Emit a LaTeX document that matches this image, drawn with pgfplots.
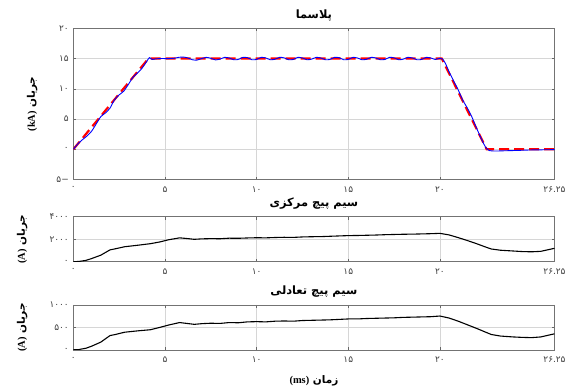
\documentclass[border=0pt]{standalone}
\usepackage{pgfplots}
\pgfplotsset{compat=1.18}
\usepackage{fontspec}
\setmainfont{Liberation Serif}
\newfontfamily\fa[Script=Arabic]{DejaVu Sans}
\TeXXeTstate=1
\newcommand\labfont{\fa\bfseries\fontsize{10.5}{12}\selectfont}
\pgfplotsset{
  common/.style={
    scale only axis, width=481.2bp,
    xmin=0, xmax=26.25,
    xtick={0,5,10,15,20,26.25},
    xticklabels={۰,۵,۱۰,۱۵,۲۰,۲۶.۲۵},
    scaled ticks=false,
    grid=major,
    major grid style={black!16, line width=0.5pt},
    axis line style={black!55, line width=0.6pt},
    tick style={black!60, line width=0.5pt},
    major tick length=3bp,
    tick align=inside,
    ticklabel style={font=\fa\fontsize{9}{10}\selectfont, text=black!75},
    xticklabel style={yshift=-3.5bp},
    yticklabel style={xshift=-1bp},
    title style={font=\fa\bfseries\fontsize{11.5}{13}\selectfont, at={(rel axis cs:0.5,1)}, anchor=center, yshift=7bp},
  },
}
\begin{document}
\begin{tikzpicture}
\path[use as bounding box] (0,0) rectangle (576bp,392bp);
% ---------- top axis ----------
\begin{axis}[common, at={(73.3bp,212.4bp)}, anchor=south west, height=151.3bp,
  ymin=-5, ymax=20, ytick={-5,0,5,10,15,20},
  yticklabels={−۵,۰,۵,۱۰,۱۵,۲۰},
  title={\beginR پلاسما\endR},
  every axis y label/.style={at={(rel axis cs:0,0.5)}, xshift=-41bp, rotate=90, anchor=center, font=\labfont},
  ylabel={\beginR جریان \beginL{\rmfamily\bfseries (kA)}\endL\endR},
]
\addplot[red, line width=2.2pt, dash pattern=on 10bp off 5bp] coordinates {
(0,0) (4.1,15) (20.1,15) (22.55,0) (26.25,0)};
\addplot[blue, line width=0.9pt, smooth, tension=0.4] coordinates {
(0,0) (0.25,0.9) (0.5,1.6) (0.75,2.2) (1.0,3.0) (1.25,4.2) (1.5,5.4) (1.75,6.0)
(2.0,6.8) (2.25,8.2) (2.5,9.0) (2.75,9.6) (3.0,10.7) (3.25,11.9) (3.5,12.6)
(3.75,13.4) (4.0,14.5) (4.15,15.15) (4.3,14.85) (4.5,14.95) (4.75,15.0)
(5.0,15.0) (5.25,15.0) (5.5,15.05) (5.75,15.2) (6.0,15.25) (6.25,15.1) (6.5,14.8)
(6.75,14.75) (7.0,15.0) (7.25,15.2) (7.5,15.05) (7.75,14.78) (8.0,14.9)
(8.25,15.2) (8.5,15.1) (8.75,14.8) (9.0,14.85) (9.25,15.2) (9.5,15.15)
(9.75,14.8) (10.0,14.85) (10.25,15.2) (10.5,15.1) (10.75,14.8) (11.0,14.88)
(11.25,15.2) (11.5,15.12) (11.75,14.8) (12.0,14.85) (12.25,15.2) (12.5,15.1)
(12.75,14.8) (13.0,14.9) (13.25,15.2) (13.5,15.1) (13.75,14.8) (14.0,14.85)
(14.25,15.2) (14.5,15.15) (14.75,14.8) (15.0,14.85) (15.25,15.2) (15.5,15.1)
(15.75,14.8) (16.0,14.88) (16.25,15.2) (16.5,15.1) (16.75,14.8) (17.0,14.85)
(17.25,15.2) (17.5,15.12) (17.75,14.8) (18.0,14.9) (18.25,15.2) (18.5,15.1)
(18.75,14.8) (19.0,14.85) (19.25,15.2) (19.5,15.1) (19.75,14.85) (20.0,15.05)
(20.15,14.9) (20.3,14.2) (20.5,12.8) (20.75,11.3) (21.0,9.8) (21.25,8.1)
(21.5,6.8) (21.75,5.3) (22.0,3.5) (22.25,1.8) (22.5,0.3) (22.7,-0.2)
(23.0,-0.28) (23.5,-0.24) (24.0,-0.2) (24.5,-0.15) (25.0,-0.1) (25.5,-0.08) (26.25,-0.05)};
\end{axis}
% ---------- middle axis ----------
\begin{axis}[common, at={(73.3bp,130.3bp)}, anchor=south west, height=45bp,
  ymin=0, ymax=4000, ytick={0,2000,4000},
  yticklabels={۰,۲۰۰۰,۴۰۰۰},
  title={\beginR سیم پیچ مرکزی\endR},
  every axis y label/.style={at={(rel axis cs:0,0.5)}, xshift=-51bp, rotate=90, anchor=center, font=\labfont},
  ylabel={\beginR جریان \beginL{\rmfamily\bfseries (A)}\endL\endR},
]
\addplot[black, line width=1.1pt] coordinates {
(0,0) (0.3,20) (0.7,120) (1.0,280) (1.5,580) (2.0,1050) (2.3,1150) (2.8,1330)
(3.5,1460) (4.2,1600) (4.7,1750) (5.2,1950) (5.8,2120) (6.2,2060) (6.6,1990)
(7.0,2030) (7.5,2050) (8.0,2040) (8.5,2090) (9.0,2080) (9.5,2110) (10,2130)
(10.5,2120) (11,2150) (11.5,2170) (12,2160) (12.5,2200) (13,2220) (13.5,2230)
(14,2260) (14.5,2290) (15,2320) (15.5,2330) (16,2350) (16.5,2370) (17,2400)
(17.5,2420) (18,2440) (18.5,2450) (19,2470) (19.5,2490) (20,2520) (20.5,2380)
(21,2140) (21.5,1880) (22,1600) (22.5,1300) (22.8,1130) (23.3,1020) (24,950)
(24.5,900) (25,880) (25.5,920) (26.25,1190)};
\end{axis}
% ---------- bottom axis ----------
\begin{axis}[common, at={(73.3bp,42bp)}, anchor=south west, height=45bp,
  ymin=0, ymax=1000, ytick={0,500,1000},
  yticklabels={۰,۵۰۰,۱۰۰۰},
  title={\beginR سیم پیچ تعادلی\endR},
  every axis y label/.style={at={(rel axis cs:0,0.5)}, xshift=-51bp, rotate=90, anchor=center, font=\labfont},
  ylabel={\beginR جریان \beginL{\rmfamily\bfseries (A)}\endL\endR},
  every axis x label/.style={at={(rel axis cs:0.5,0)}, yshift=-31bp, anchor=center, font=\labfont},
  xlabel={\beginR زمان \beginL{\rmfamily\bfseries (ms)}\endL\endR},
]
\addplot[black, line width=1.1pt] coordinates {
(0,5) (0.3,10) (0.7,40) (1.0,85) (1.5,175) (2.0,320) (2.3,345) (2.8,395)
(3.5,425) (4.2,450) (4.7,500) (5.2,555) (5.8,610) (6.2,590) (6.6,570)
(7.0,585) (7.5,595) (8.0,590) (8.5,610) (9.0,605) (9.5,625) (10,630)
(10.5,625) (11,640) (11.5,645) (12,640) (12.5,655) (13,660) (13.5,665)
(14,670) (14.5,680) (15,690) (15.5,690) (16,700) (16.5,705) (17,710)
(17.5,715) (18,725) (18.5,730) (19,735) (19.5,740) (20,755) (20.5,710)
(21,640) (21.5,560) (22,480) (22.5,395) (22.8,345) (23.3,310) (24,290)
(24.5,280) (25,275) (25.5,290) (26.25,360)};
\end{axis}
\end{tikzpicture}
\end{document}
